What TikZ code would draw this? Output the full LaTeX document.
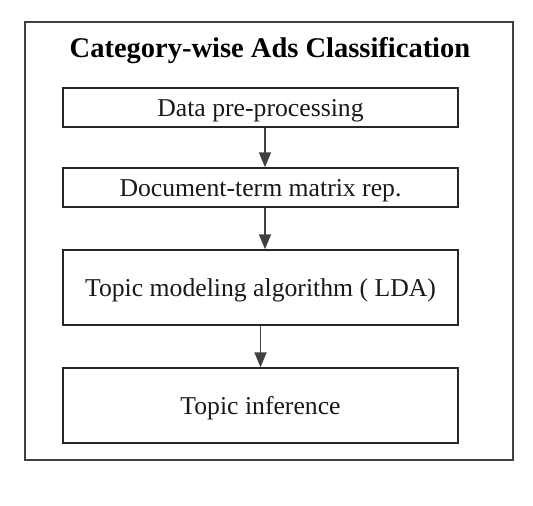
\documentclass[tikz,border=0pt]{standalone}
\usepackage{fontspec}
\setmainfont{Liberation Serif}
\usetikzlibrary{arrows.meta}
\tikzset{
  stage/.style={draw=black!85, line width=1.5pt, minimum width=395pt, inner sep=0pt,
    text depth=0pt, font=\fontsize{25.7}{28}\selectfont, text=black!90},
  flow/.style={draw=black!75, line width=1.9pt, -{Triangle[length=15pt,width=12pt]}}
}
\begin{document}
\begin{tikzpicture}[x=1pt,y=-1pt]
  \useasboundingbox (0,0) rectangle (533,506);
  \draw[black!75, line width=1.8pt] (25,22) rectangle (513,460);
  \draw
    (270,50.5) node (title){\fontsize{28.5}{30}\selectfont\bfseries Category-wise Ads Classification}
    (260.5,107.5) node[stage, minimum height=39pt] (prep){Data pre-processing}
    (260.5,187.5) node[stage, minimum height=39pt] (dtm){Document-term matrix rep.}
    (260.5,287.5) node[stage, minimum height=75pt] (lda){Topic modeling algorithm ( LDA)}
    (260.5,405.5) node[stage, minimum height=75pt] (infer){Topic inference};
  \begin{scope}[flow]
    \draw ([xshift=4.5pt]prep.south) to ([xshift=4.5pt]dtm.north);
    \draw ([xshift=4.5pt]dtm.south) to ([xshift=4.5pt]lda.north);
    \draw (lda.south) to (infer.north);
  \end{scope}
\end{tikzpicture}
\end{document}
